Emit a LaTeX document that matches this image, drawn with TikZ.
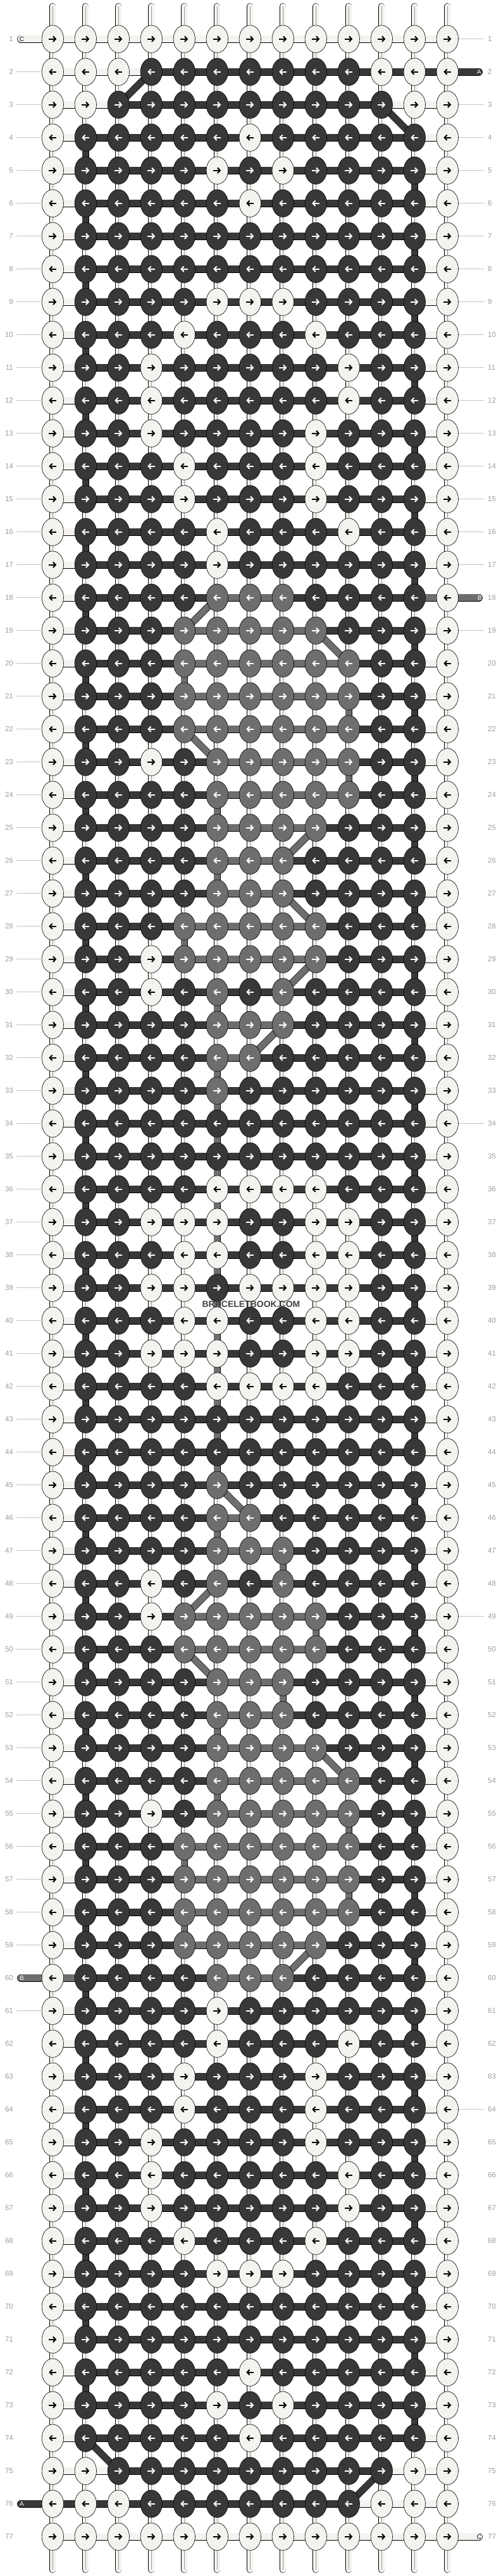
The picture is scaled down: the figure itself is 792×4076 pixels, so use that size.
\documentclass[tikz,border=0pt]{standalone}
\usepackage{fontspec}
\setmainfont{Liberation Sans}
\usetikzlibrary{shapes.geometric,arrows.meta}
\pgfdeclarelayer{paper}
\pgfdeclarelayer{strings}
\pgfsetlayers{paper,strings,main}
\definecolor{cW}{HTML}{F5F3EF}
\definecolor{cD}{HTML}{383838}
\definecolor{cG}{HTML}{6E6E6E}
\definecolor{cNum}{HTML}{9E9E9E}
\definecolor{cGuide}{HTML}{C4C4C4}
\newcommand{\gap}{52}   % distance between two knots
\newcommand{\xz}{31.3}  % x of column 0
\newcommand{\yz}{9.7}   % y of row 0
% rows and links that come back often
\newcommand{\plain}{w,d,d,d,d,d,d,d,d,d,d,w}
\newcommand{\allw}{w,w,w,w,w,w,w,w,w,w,w,w}
\newcommand{\full}{W,D,D,D,D,D,D,D,D,D,D,D,W}
\newcommand{\allW}{W,W,W,W,W,W,W,W,W,W,W,W,W}
% one row of knots: #1 row, #2 knot colours, #3 link colours
\newcommand{\krow}[3]{
	\edef\kcols{#2}
	\edef\lcols{#3}
	\ifodd#1\relax\def\arrfrom{-6}\def\arrlen{12}\else\def\arrfrom{6}\def\arrlen{-12}\fi
	\foreach \k [count=\c] in \kcols {
		\node[knot\k] (k-#1-\c) at ({\xz+\c*\gap},{\yz+#1*\gap}) {};
		\draw[arr\k] (k-#1-\c.center) ++(\arrfrom,0) -- ++(\arrlen,0);
	}
	\begin{pgfonlayer}{strings}
	\foreach \l [count=\c] in \lcols {
		\pgfmathtruncatemacro\n{\c+1}
		\draw[link\l] (k-#1-\c.center) -- (k-#1-\n.center);
	}
	\end{pgfonlayer}
}

\begin{document}
\begin{tikzpicture}[
      x={(1pt,0)}, y={(0,-1pt)},
      knot/.style={ellipse, draw=black, line width=0.6pt, minimum width=34.4pt, minimum height=43.4pt, inner sep=0pt},
      knotW/.style={knot, fill=cW},
      knotD/.style={knot, fill=cD},
      knotG/.style={knot, fill=cG},
      arr/.style={line width=2pt, -{Straight Barb[length=4pt,width=8.5pt]}},
      arrW/.style={arr, draw=black},
      arrD/.style={arr, draw=white},
      arrG/.style={arr, draw=white},
      linkw/.style={draw=black, line width=0.6pt, double=cW, double distance=10.6pt},
      linkd/.style={draw=black, line width=0.6pt, double=cD, double distance=10.6pt},
      linkg/.style={draw=black, line width=0.6pt, double=cG, double distance=10.6pt},
      strand/.style={draw=black, line width=0.6pt, double=cW, double distance=9pt},
      strandmid/.style={draw=black!40, line width=0.5pt},
      pathD/.style={draw=black, line width=0.6pt, double=cD, double distance=9.8pt},
      pathG/.style={draw=black, line width=0.6pt, double=cG, double distance=9.8pt},
      num/.style={font=\fontsize{11.5}{12}\selectfont, text=cNum, inner sep=0pt},
      guide/.style={draw=cGuide, line width=0.9pt},
      tag/.style={font=\fontsize{10}{10}\selectfont, inner sep=0pt},
      wmark/.style={font=\fontsize{14}{14}\selectfont\bfseries, text=cD!95, inner sep=1pt}
    ]
    \useasboundingbox (0,0) rectangle (792,4076);
    \begin{pgfonlayer}{paper}
    \fill[white] (0,0) rectangle (792,4076);
    \end{pgfonlayer}
    % the knots, row by row
    \krow{1}{\allW}{\allw}
    \krow{2}{W,W,W,D,D,D,D,D,D,D,W,W,W}{w,w,w,d,d,d,d,d,d,d,d,d}
    \krow{3}{W,W,D,D,D,D,D,D,D,D,D,W,W}{w,w,d,d,d,d,d,d,d,d,w,w}
    \krow{4}{W,D,D,D,D,D,W,D,D,D,D,D,W}{\plain}
    \krow{5}{W,D,D,D,D,W,D,W,D,D,D,D,W}{\plain}
    \krow{6}{W,D,D,D,D,D,W,D,D,D,D,D,W}{\plain}
    \krow{7}{\full}{\plain}
    \krow{8}{\full}{\plain}
    \krow{9}{W,D,D,D,D,W,W,W,D,D,D,D,W}{\plain}
    \krow{10}{W,D,D,D,W,D,D,D,W,D,D,D,W}{\plain}
    \krow{11}{W,D,D,W,D,D,D,D,D,W,D,D,W}{\plain}
    \krow{12}{W,D,D,W,D,D,D,D,D,W,D,D,W}{\plain}
    \krow{13}{W,D,D,W,D,D,D,D,W,D,D,D,W}{\plain}
    \krow{14}{W,D,D,D,W,D,D,D,W,D,D,D,W}{\plain}
    \krow{15}{W,D,D,D,W,D,D,D,W,D,D,D,W}{\plain}
    \krow{16}{W,D,D,D,D,W,D,D,D,W,D,D,W}{\plain}
    \krow{17}{W,D,D,D,D,W,D,D,D,D,D,D,W}{\plain}
    \krow{18}{W,D,D,D,D,G,G,G,D,D,D,D,W}{w,d,d,d,d,g,g,d,d,d,d,g}
    \krow{19}{W,D,D,D,G,G,G,G,G,D,D,D,W}{w,d,d,d,g,g,g,g,d,d,d,w}
    \krow{20}{W,D,D,D,G,G,G,G,G,G,D,D,W}{w,d,d,d,g,g,g,g,g,d,d,w}
    \krow{21}{W,D,D,D,G,G,G,G,G,G,D,D,W}{w,d,d,d,g,g,g,g,g,d,d,w}
    \krow{22}{W,D,D,D,G,G,G,G,G,G,D,D,W}{w,d,d,d,g,g,g,g,g,d,d,w}
    \krow{23}{W,D,D,W,D,G,G,G,G,G,D,D,W}{w,d,d,d,d,g,g,g,g,d,d,w}
    \krow{24}{W,D,D,D,D,G,G,G,G,G,D,D,W}{w,d,d,d,d,g,g,g,g,d,d,w}
    \krow{25}{W,D,D,D,D,G,G,G,G,D,D,D,W}{w,d,d,d,d,g,g,g,d,d,d,w}
    \krow{26}{W,D,D,D,D,G,G,G,D,D,D,D,W}{w,d,d,d,d,g,g,d,d,d,d,w}
    \krow{27}{W,D,D,D,D,G,G,G,D,D,D,D,W}{w,d,d,d,d,g,g,d,d,d,d,w}
    \krow{28}{W,D,D,D,G,G,G,G,G,D,D,D,W}{w,d,d,d,g,g,g,g,d,d,d,w}
    \krow{29}{W,D,D,W,G,G,G,G,G,D,D,D,W}{w,d,d,d,g,g,g,g,d,d,d,w}
    \krow{30}{W,D,D,W,D,G,D,G,D,D,D,D,W}{\plain}
    \krow{31}{W,D,D,D,D,G,G,G,D,D,D,D,W}{w,d,d,d,d,g,g,d,d,d,d,w}
    \krow{32}{W,D,D,D,D,G,G,D,D,D,D,D,W}{w,d,d,d,d,g,d,d,d,d,d,w}
    \krow{33}{W,D,D,D,D,G,D,D,D,D,D,D,W}{\plain}
    \krow{34}{\full}{\plain}
    \krow{35}{\full}{\plain}
    \krow{36}{W,D,D,D,D,W,W,W,W,D,D,D,W}{\plain}
    \krow{37}{W,D,D,W,W,W,D,D,W,W,D,D,W}{\plain}
    \krow{38}{W,D,D,D,W,W,D,D,W,W,D,D,W}{\plain}
    \krow{39}{W,D,D,W,W,D,W,W,W,W,D,D,W}{\plain}
    \krow{40}{W,D,D,D,W,W,D,D,W,W,D,D,W}{\plain}
    \krow{41}{W,D,D,W,W,W,D,D,W,W,D,D,W}{\plain}
    \krow{42}{W,D,D,D,D,W,W,W,W,D,D,D,W}{\plain}
    \krow{43}{\full}{\plain}
    \krow{44}{\full}{\plain}
    \krow{45}{W,D,D,D,D,G,D,D,D,D,D,D,W}{\plain}
    \krow{46}{W,D,D,D,D,G,G,D,D,D,D,D,W}{w,d,d,d,d,g,d,d,d,d,d,w}
    \krow{47}{W,D,D,D,D,G,G,G,D,D,D,D,W}{w,d,d,d,d,g,g,d,d,d,d,w}
    \krow{48}{W,D,D,W,D,G,D,G,D,D,D,D,W}{\plain}
    \krow{49}{W,D,D,W,G,G,G,G,G,D,D,D,W}{w,d,d,d,g,g,g,g,d,d,d,w}
    \krow{50}{W,D,D,D,G,G,G,G,G,D,D,D,W}{w,d,d,d,g,g,g,g,d,d,d,w}
    \krow{51}{W,D,D,D,D,G,G,G,D,D,D,D,W}{w,d,d,d,d,g,g,d,d,d,d,w}
    \krow{52}{W,D,D,D,D,G,G,G,D,D,D,D,W}{w,d,d,d,d,g,g,d,d,d,d,w}
    \krow{53}{W,D,D,D,D,G,G,G,G,D,D,D,W}{w,d,d,d,d,g,g,g,d,d,d,w}
    \krow{54}{W,D,D,D,D,G,G,G,G,G,D,D,W}{w,d,d,d,d,g,g,g,g,d,d,w}
    \krow{55}{W,D,D,W,D,G,G,G,G,G,D,D,W}{w,d,d,d,d,g,g,g,g,d,d,w}
    \krow{56}{W,D,D,D,G,G,G,G,G,G,D,D,W}{w,d,d,d,g,g,g,g,g,d,d,w}
    \krow{57}{W,D,D,D,G,G,G,G,G,G,D,D,W}{w,d,d,d,g,g,g,g,g,d,d,w}
    \krow{58}{W,D,D,D,G,G,G,G,G,G,D,D,W}{w,d,d,d,g,g,g,g,g,d,d,w}
    \krow{59}{W,D,D,D,G,G,G,G,G,D,D,D,W}{w,d,d,d,g,g,g,g,d,d,d,w}
    \krow{60}{W,D,D,D,D,G,G,G,D,D,D,D,W}{g,d,d,d,d,g,g,d,d,d,d,w}
    \krow{61}{W,D,D,D,D,W,D,D,D,D,D,D,W}{\plain}
    \krow{62}{W,D,D,D,D,W,D,D,D,W,D,D,W}{\plain}
    \krow{63}{W,D,D,D,W,D,D,D,W,D,D,D,W}{\plain}
    \krow{64}{W,D,D,D,W,D,D,D,W,D,D,D,W}{\plain}
    \krow{65}{W,D,D,W,D,D,D,D,W,D,D,D,W}{\plain}
    \krow{66}{W,D,D,W,D,D,D,D,D,W,D,D,W}{\plain}
    \krow{67}{W,D,D,W,D,D,D,D,D,W,D,D,W}{\plain}
    \krow{68}{W,D,D,D,W,D,D,D,W,D,D,D,W}{\plain}
    \krow{69}{W,D,D,D,D,W,W,W,D,D,D,D,W}{\plain}
    \krow{70}{\full}{\plain}
    \krow{71}{\full}{\plain}
    \krow{72}{W,D,D,D,D,D,W,D,D,D,D,D,W}{\plain}
    \krow{73}{W,D,D,D,D,W,D,W,D,D,D,D,W}{\plain}
    \krow{74}{W,D,D,D,D,D,W,D,D,D,D,D,W}{\plain}
    \krow{75}{W,W,D,D,D,D,D,D,D,D,D,W,W}{w,w,d,d,d,d,d,d,d,d,w,w}
    \krow{76}{W,W,W,D,D,D,D,D,D,D,W,W,W}{d,d,d,d,d,d,d,d,d,w,w,w}
    \krow{77}{\allW}{\allw}
    \begin{pgfonlayer}{strings}
    % base strings between the rows
    \foreach \r in {1,...,76} {
      \pgfmathtruncatemacro\s{\r+1}
      \foreach \c in {1,...,13} {
        \draw[strand] (k-\r-\c.center) -- (k-\s-\c.center);
        \draw[strandmid] (k-\r-\c.center) -- (k-\s-\c.center);
      }
    }
    % loose ends at top and bottom
    \foreach \c in {1,...,13} {
      \coordinate (top-\c) at ({\xz+\c*\gap},10);
      \coordinate (bot-\c) at ({\xz+\c*\gap},4066);
      \draw[strand, line cap=round] (top-\c) -- (k-1-\c.center);
      \draw[strandmid] (top-\c) -- (k-1-\c.center);
      \draw[strand, line cap=round] (bot-\c) -- (k-77-\c.center);
      \draw[strandmid] (bot-\c) -- (k-77-\c.center);
    }
    % dark string going down at the sides
    \foreach \r in {4,6,...,72} {
      \pgfmathtruncatemacro\s{\r+1}
      \draw[pathD] (k-\r-2.center) -- (k-\s-2.center);
    }
    \foreach \r in {5,7,...,73} {
      \pgfmathtruncatemacro\s{\r+1}
      \draw[pathD] (k-\r-12.center) -- (k-\s-12.center);
    }
    % gray string going down
    \foreach \r/\c in {20/5,21/10,23/10,24/6,26/6,28/5,30/6,32/6,33/6,34/6,35/6,36/6,37/6,38/6,39/6,40/6,41/6,42/6,43/6,44/6,46/6,47/8,49/9,51/8,52/6,54/6,55/10,56/5,57/10,58/5} {
      \pgfmathtruncatemacro\s{\r+1}
      \draw[pathG] (k-\r-\c.center) -- (k-\s-\c.center);
    }
    % strings changing place
    \foreach \r/\ca/\cb in {2/4/3,3/11/12,74/2/3,75/11/10} {
      \pgfmathtruncatemacro\s{\r+1}
      \draw[pathD] (k-\r-\ca.center) -- (k-\s-\cb.center);
    }
    \foreach \r/\ca/\cb in {18/6/5,19/9/10,22/5/6,25/9/8,27/8/9,29/9/8,31/8/7,45/6/7,48/6/5,50/5/6,53/9/10,59/9/8} {
      \pgfmathtruncatemacro\s{\r+1}
      \draw[pathG] (k-\r-\ca.center) -- (k-\s-\cb.center);
    }
    % string ends
    \coordinate (tail-1) at (33,{\yz+1*\gap});
    \coordinate (tail-60) at (33,{\yz+60*\gap});
    \coordinate (tail-76) at (33,{\yz+76*\gap});
    \coordinate (tail-2) at (757,{\yz+2*\gap});
    \coordinate (tail-18) at (757,{\yz+18*\gap});
    \coordinate (tail-77) at (757,{\yz+77*\gap});
    \draw[linkw, line cap=round] (tail-1) -- (k-1-1.center);
    \draw[linkg, line cap=round] (tail-60) -- (k-60-1.center);
    \draw[linkd, line cap=round] (tail-76) -- (k-76-1.center);
    \draw[linkd, line cap=round] (tail-2) -- (k-2-13.center);
    \draw[linkg, line cap=round] (tail-18) -- (k-18-13.center);
    \draw[linkw, line cap=round] (tail-77) -- (k-77-13.center);
    \end{pgfonlayer}
    \node[tag, text=black] (tag-1) at ([xshift=1.5pt]tail-1) {C};
    \node[tag, text=white] (tag-60) at ([xshift=1.5pt]tail-60) {B};
    \node[tag, text=white] (tag-76) at ([xshift=1.5pt]tail-76) {A};
    \node[tag, text=white] (tag-2) at ([xshift=0.5pt]tail-2) {A};
    \node[tag, text=white] (tag-18) at ([xshift=1.5pt]tail-18) {B};
    \node[tag, text=black] (tag-77) at ([xshift=0.5pt]tail-77) {C};
    % row numbers
    \foreach \r in {1,...,77} {
      \node[num, anchor=east] (nl-\r) at (21,{\yz+\r*\gap}) {\r};
      \node[num, anchor=west] (nr-\r) at (771,{\yz+\r*\gap}) {\r};
    }
    \foreach \r in {2,...,59,61,...,75}
      \draw[guide, shorten <=5pt] (nl-\r) -- (k-\r-1);
    \foreach \r in {1,3,4,...,17,19,...,76}
      \draw[guide, shorten >=6pt] (k-\r-13) -- (nr-\r);
    % site name
    \node[wmark] (wm) at (397,2064) {BRACELETBOOK.COM};
\end{tikzpicture}
\end{document}
